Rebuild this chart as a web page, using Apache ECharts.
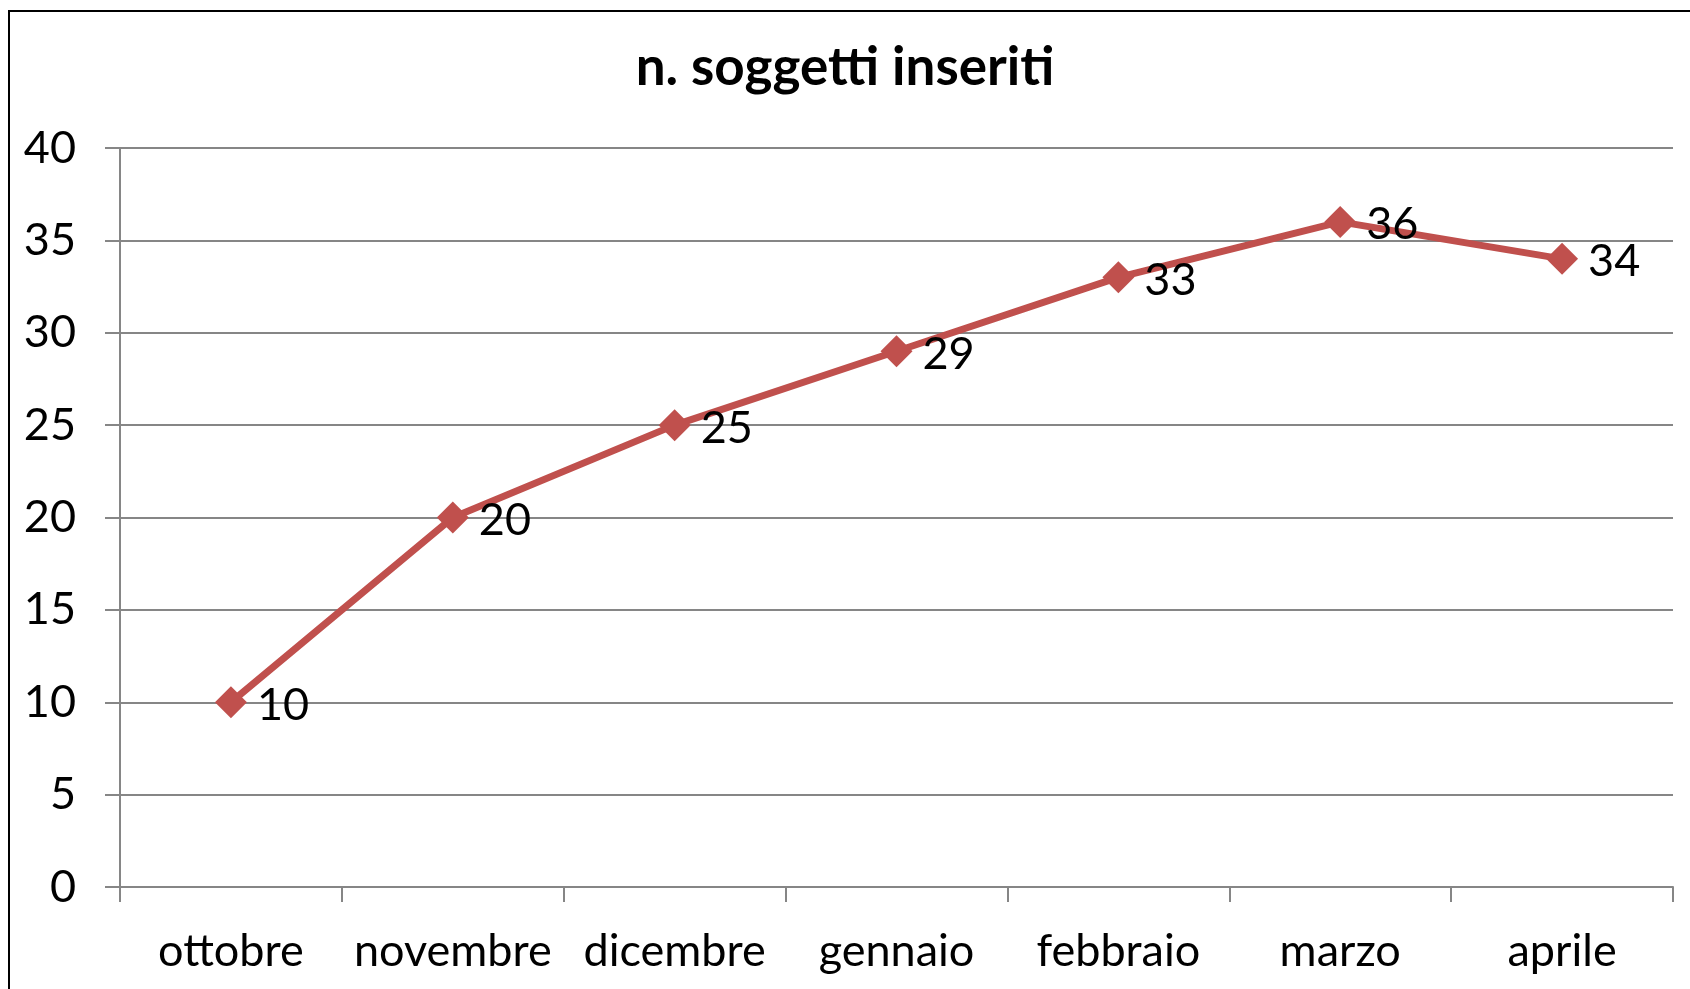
<!DOCTYPE html>
<html>
<head>
<meta charset="utf-8">
<script src="https://cdn.jsdelivr.net/npm/echarts@6/dist/echarts.min.js"></script>
<style>
html,body{margin:0;padding:0;background:#fff;}
#c{width:1690px;height:989px;}
</style>
</head>
<body>
<div id="c"></div>
<script>
const chartTitle = 'n. soggetti inseriti';
const categories = ['ottobre','novembre','dicembre','gennaio','febbraio','marzo','aprile'];
const values = [10,20,25,29,33,36,34];
const yMin = 0, yMax = 40, yStep = 5;

const FONT = 'Lato, "Open Sans", sans-serif';
const chart = echarts.init(document.getElementById('c'));
chart.setOption({
  animation:false,
  backgroundColor:'#fff',
  title:{text:chartTitle,left:'center',top:36,
    textStyle:{fontFamily:FONT,fontWeight:'bold',fontSize:53,color:'#000'}},
  grid:{left:120,right:17,top:148,bottom:102,containLabel:false},
  xAxis:{type:'category',data:categories,boundaryGap:true,
    axisLine:{lineStyle:{color:'#868686',width:2}},
    axisTick:{show:true,length:15,alignWithLabel:false,lineStyle:{color:'#868686',width:2}},
    axisLabel:{fontFamily:FONT,fontSize:45,color:'#000',margin:42,interval:0}},
  yAxis:{type:'value',min:yMin,max:yMax,interval:yStep,
    axisLine:{show:true,lineStyle:{color:'#868686',width:2}},
    axisTick:{show:true,length:15,lineStyle:{color:'#868686',width:2}},
    splitLine:{lineStyle:{color:'#868686',width:2}},
    axisLabel:{fontFamily:FONT,fontSize:45,color:'#000',margin:44}},
  series:[{type:'line',data:values,
    lineStyle:{color:'#C0504D',width:7},
    itemStyle:{color:'#C0504D'},
    symbol:'diamond',symbolSize:32,
    label:{show:true,position:'right',distance:10,offset:[0,3],
      fontFamily:FONT,fontSize:45,color:'#000'}}],
  graphic:[{type:'rect',shape:{x:9,y:11,width:1720,height:1020},
    style:{fill:'none',stroke:'#000',lineWidth:2},z:100}]
});
</script>
</body>
</html>
